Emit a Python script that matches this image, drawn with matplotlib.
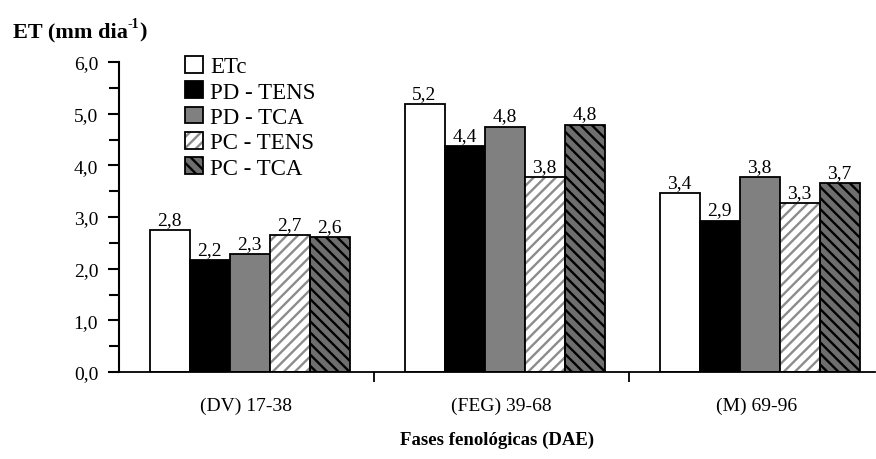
import numpy as np
import matplotlib
matplotlib.use("Agg")
import matplotlib.pyplot as plt
from matplotlib.legend_handler import HandlerTuple

# ── Datos ─────────────────────────────────────────────────────────────────────
fases = ["(DV) 17-38", "(FEG) 39-68", "(M) 69-96"]
series = ["ETc", "PD - TENS", "PD - TCA", "PC - TENS", "PC - TCA"]
etc = [2.75, 5.19, 3.46]
pd_tens = [2.16, 4.37, 2.93]
pd_tca = [2.29, 4.75, 3.77]
pc_tens = [2.65, 3.77, 3.27]
pc_tca = [2.61, 4.79, 3.66]
rotulos = [["2,8", "5,2", "3,4"],
           ["2,2", "4,4", "2,9"],
           ["2,3", "4,8", "3,8"],
           ["2,7", "3,8", "3,3"],
           ["2,6", "4,8", "3,7"]]

valores = [etc, pd_tens, pd_tca, pc_tens, pc_tca]
relleno = ["white", "black", "#808080", "white", "#6e6e6e"]
trama = [None, None, None, "///", "\\\\\\"]
color_trama = [None, None, None, "#8c8c8c", "black"]

plt.rcParams["font.family"] = ["Liberation Serif", "DejaVu Serif"]
plt.rcParams["hatch.linewidth"] = 1.7

fig = plt.figure(figsize=(8.76, 4.60), dpi=100)
ax = fig.add_axes([119 / 876, 1 - 373 / 460, 756 / 876, 310 / 460])

ancho = 40 / 255
centros = np.arange(len(fases)) + 0.5 + 0.012
handles = []
for i, (nombre, vals) in enumerate(zip(series, valores)):
    x = centros + (i - 2) * ancho
    if trama[i] is None:
        b = ax.bar(x, vals, ancho, color=relleno[i], edgecolor="black",
                   linewidth=1.3, zorder=2)
        handles.append(b)
    else:
        b1 = ax.bar(x, vals, ancho, color=relleno[i], edgecolor=color_trama[i],
                    hatch=trama[i], linewidth=0, zorder=2)
        b2 = ax.bar(x, vals, ancho, fill=False, edgecolor="black",
                    linewidth=1.3, zorder=3)
        handles.append((b1, b2))
    for xi, v, t in zip(x, vals, rotulos[i]):
        ax.text(xi, v + 0.04, t, ha="center", va="bottom", fontsize=14)

ax.set_xlim(0, 756 / 255)
ax.set_ylim(0, 6)
ax.set_yticks(np.arange(0, 6.1, 1))
ax.set_yticklabels([f"{v:.1f}".replace(".", ",") for v in np.arange(0, 6.1, 1)],
                   fontsize=14)
ax.set_yticks(np.arange(0.5, 6, 1), minor=True)
ax.tick_params(axis="y", which="major", length=8, width=1.5, pad=7)
ax.tick_params(axis="y", which="minor", length=7, width=1.5)

ax.set_xticks(np.arange(len(fases)) + 0.5)
ax.set_xticklabels(fases, fontsize=14)
ax.set_xticks([1, 2], minor=True)
ax.tick_params(axis="x", which="major", length=0, pad=18)
ax.tick_params(axis="x", which="minor", length=7, width=1.3)

for lado in ["top", "right"]:
    ax.spines[lado].set_visible(False)
ax.spines["left"].set_linewidth(1.5)
ax.spines["bottom"].set_linewidth(1.3)

ax.legend(handles, series, loc="upper left",
          bbox_to_anchor=(185 / 876, 1 - 57 / 460),
          bbox_transform=fig.transFigure, frameon=False, fontsize=16.5,
          handlelength=0.8, handleheight=0.75, handletextpad=0.3,
          labelspacing=0.17, borderpad=0, borderaxespad=0,
          handler_map={tuple: HandlerTuple(ndivide=1)})

# título del eje Y con superíndice "-1"
renderer = fig.canvas.get_renderer()
y_base = 1 - 37 / 460
t1 = fig.text(13 / 876, y_base, "ET (mm dia", fontsize=16,
              fontweight="bold", va="baseline", ha="left")
bb = t1.get_window_extent(renderer)
t2 = fig.text(bb.x1 / 876, y_base + 9 / 460, "-1", fontsize=10,
              fontweight="bold", va="baseline", ha="left")
bb2 = t2.get_window_extent(renderer)
fig.text(bb2.x1 / 876, y_base, ")", fontsize=16,
         fontweight="bold", va="baseline", ha="left")

fig.text(497 / 876, 1 - 440 / 460, "Fases fenológicas (DAE)",
         fontsize=13.5, fontweight="bold", va="center", ha="center")

fig.savefig("out.png", dpi=100)
